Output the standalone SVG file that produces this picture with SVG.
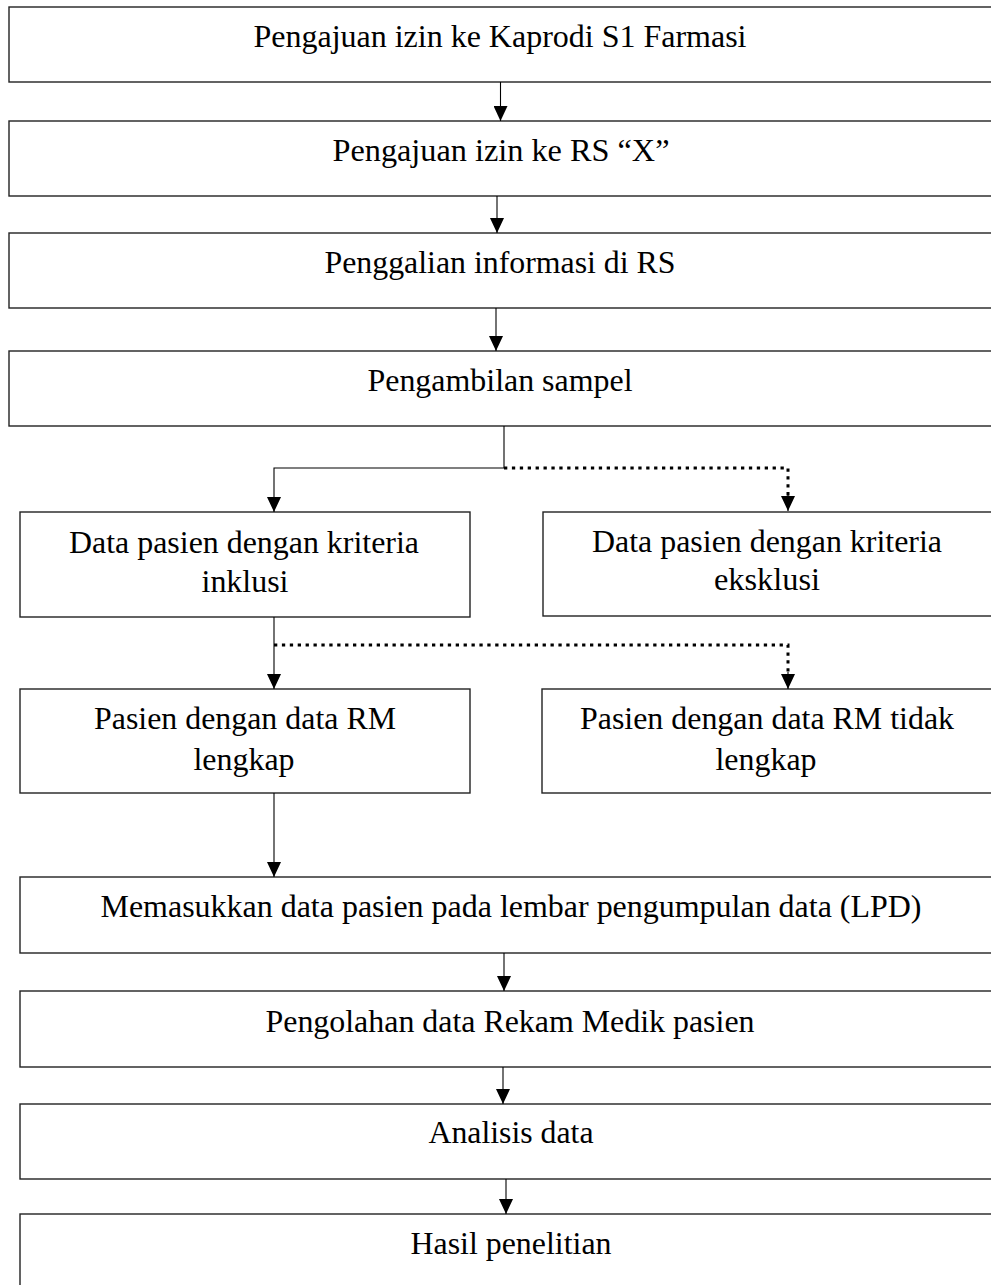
<svg xmlns="http://www.w3.org/2000/svg" width="991" height="1285" viewBox="0 0 991 1285">
<style>
.box{fill:#fff;stroke:#222;stroke-width:1.4}
.t{font-family:"Liberation Serif","Times New Roman",serif;font-size:32px;fill:#000;text-anchor:middle}
.c{fill:none;stroke:#000;stroke-width:1.1}
.d{fill:none;stroke:#000;stroke-width:3;stroke-dasharray:3.3 4.6}
</style>
<defs>
<marker id="ah" viewBox="0 0 15 14" refX="15" refY="7" markerWidth="15" markerHeight="14" markerUnits="userSpaceOnUse" orient="auto">
<path d="M0,0 L15,7 L0,14 z" fill="#000"/>
</marker>
</defs>
<rect width="991" height="1285" fill="#fff"/>
<g id="n1"><rect class="box" x="9" y="7" width="1000" height="75"/><text class="t" x="500" y="47" textLength="493" lengthAdjust="spacingAndGlyphs">Pengajuan izin ke Kaprodi S1 Farmasi</text></g>
<g id="n2"><rect class="box" x="9" y="121" width="1000" height="75"/><text class="t" x="501" y="161" textLength="337" lengthAdjust="spacingAndGlyphs">Pengajuan izin ke RS “X”</text></g>
<g id="n3"><rect class="box" x="9" y="233" width="1000" height="75"/><text class="t" x="500" y="273" textLength="351" lengthAdjust="spacingAndGlyphs">Penggalian informasi di RS</text></g>
<g id="n4"><rect class="box" x="9" y="351" width="1000" height="75"/><text class="t" x="500" y="391" textLength="265" lengthAdjust="spacingAndGlyphs">Pengambilan sampel</text></g>
<g id="n5"><rect class="box" x="20" y="512" width="450" height="105"/><text class="t" x="244" y="553" textLength="350" lengthAdjust="spacingAndGlyphs">Data pasien dengan kriteria</text><text class="t" x="245" y="592" textLength="87" lengthAdjust="spacingAndGlyphs">inklusi</text></g>
<g id="n6"><rect class="box" x="543" y="512" width="470" height="104"/><text class="t" x="767" y="552" textLength="350" lengthAdjust="spacingAndGlyphs">Data pasien dengan kriteria</text><text class="t" x="767" y="590" textLength="106" lengthAdjust="spacingAndGlyphs">eksklusi</text></g>
<g id="n7"><rect class="box" x="20" y="689" width="450" height="104"/><text class="t" x="245" y="729" textLength="302" lengthAdjust="spacingAndGlyphs">Pasien dengan data RM</text><text class="t" x="244" y="770" textLength="101" lengthAdjust="spacingAndGlyphs">lengkap</text></g>
<g id="n8"><rect class="box" x="542" y="689" width="470" height="104"/><text class="t" x="767" y="729" textLength="374" lengthAdjust="spacingAndGlyphs">Pasien dengan data RM tidak</text><text class="t" x="766" y="770" textLength="101" lengthAdjust="spacingAndGlyphs">lengkap</text></g>
<g id="n9"><rect class="box" x="20" y="877" width="1000" height="76"/><text class="t" x="511" y="917" textLength="821" lengthAdjust="spacingAndGlyphs">Memasukkan data pasien pada lembar pengumpulan data (LPD)</text></g>
<g id="n10"><rect class="box" x="20" y="991" width="1000" height="76"/><text class="t" x="510" y="1032" textLength="489" lengthAdjust="spacingAndGlyphs">Pengolahan data Rekam Medik pasien</text></g>
<g id="n11"><rect class="box" x="20" y="1104" width="1000" height="75"/><text class="t" x="511" y="1143" textLength="165" lengthAdjust="spacingAndGlyphs">Analisis data</text></g>
<g id="n12"><rect class="box" x="20" y="1214" width="1000" height="100"/><text class="t" x="511" y="1254" textLength="201" lengthAdjust="spacingAndGlyphs">Hasil penelitian</text></g>
<g id="connectors">
<path class="c" d="M500.5,82 V121" marker-end="url(#ah)"/>
<path class="c" d="M497,196 V233" marker-end="url(#ah)"/>
<path class="c" d="M496,308 V351" marker-end="url(#ah)"/>
<path class="c" d="M504,426 V468 H274 V512" marker-end="url(#ah)"/>
<path class="d" d="M504,468 H788 V497"/>
<path class="c" d="M788,495 V511" marker-end="url(#ah)"/>
<path class="c" d="M274,617 V689" marker-end="url(#ah)"/>
<path class="d" d="M274,645 H788 V674"/>
<path class="c" d="M788,672 V689" marker-end="url(#ah)"/>
<path class="c" d="M274,793 V877" marker-end="url(#ah)"/>
<path class="c" d="M504,953 V991" marker-end="url(#ah)"/>
<path class="c" d="M503,1067 V1104" marker-end="url(#ah)"/>
<path class="c" d="M506,1179 V1214" marker-end="url(#ah)"/>
</g>
</svg>
